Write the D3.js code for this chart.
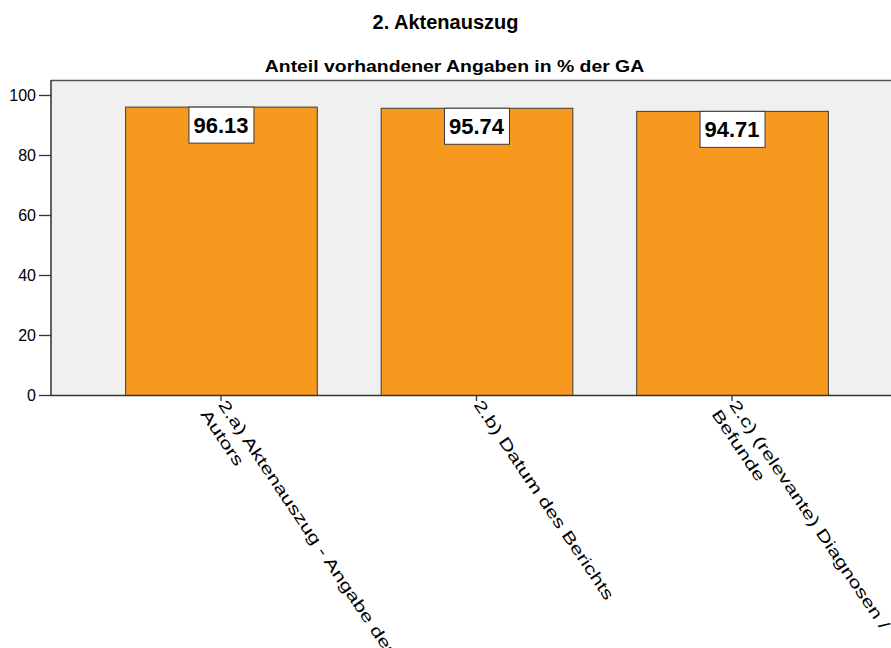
<!DOCTYPE html>
<html>
<head>
<meta charset="utf-8">
<script src="https://cdn.jsdelivr.net/npm/d3@7"></script>
<style>
  html, body { margin: 0; padding: 0; background: #ffffff; }
  svg { display: block; }
  text { font-family: "Liberation Sans", Arial, sans-serif; fill: #000; }
</style>
</head>
<body>
<script>
// Chart content
const chartTitle = "2. Aktenauszug";
const chartSubtitle = "Anteil vorhandener Angaben in % der GA";
const categories = ["2.a", "2.b", "2.c"];
const categoryLines = [
  ["2.a) Aktenauszug - Angabe des", "Autors"],
  ["2.b) Datum des Berichts"],
  ["2.c) (relevante) Diagnosen /", "Befunde"]
];
const values = [96.13, 95.74, 94.71];
const yTicks = [0, 20, 40, 60, 80, 100];

const W = 891, H = 648;
const plot = { left: 51, right: 902, top: 80, bottom: 395 };

const svg = d3.select("body").append("svg")
  .attr("width", W).attr("height", H);

const x = d3.scaleBand()
  .domain(categories)
  .range([plot.left, plot.right])
  .paddingInner(0.25)
  .paddingOuter(0.29);

const y = d3.scaleLinear()
  .domain([0, 105])
  .range([plot.bottom, plot.top]);

// Titles
svg.append("text")
  .attr("x", W / 2).attr("y", 29)
  .attr("text-anchor", "middle")
  .style("font-size", "20px").style("font-weight", "bold")
  .attr("fill", "#111")
  .text(chartTitle);

const sub = svg.append("text")
  .attr("x", W / 2 + 9).attr("y", 72)
  .attr("text-anchor", "middle")
  .style("font-size", "17px").style("font-weight", "bold")
  .attr("fill", "#111")
  .text(chartSubtitle);
sub.attr("textLength", sub.node().getComputedTextLength() * 1.14)
  .attr("lengthAdjust", "spacingAndGlyphs");

// Plot background and frame
svg.append("rect")
  .attr("x", plot.left).attr("y", plot.top)
  .attr("width", W - plot.left).attr("height", plot.bottom - plot.top)
  .attr("fill", "#f0f0f0");

svg.append("line")
  .attr("x1", plot.left).attr("x2", W)
  .attr("y1", plot.top + 0.5).attr("y2", plot.top + 0.5)
  .attr("stroke", "#555").attr("stroke-width", 1.5);

// Bars
svg.append("g").selectAll("rect")
  .data(values)
  .join("rect")
  .attr("x", (d, i) => x(categories[i]) + 0.5)
  .attr("y", d => y(d) + 0.5)
  .attr("width", x.bandwidth())
  .attr("height", d => y(0) - y(d))
  .attr("fill", "#f7991f")
  .attr("stroke", "#3a3a3a")
  .attr("stroke-width", 1);

// Value labels in white boxes at the top of each bar
const boxW = 65, boxH = 36;
const lab = svg.append("g").selectAll("g")
  .data(values)
  .join("g")
  .attr("transform", (d, i) =>
    `translate(${x(categories[i]) + x.bandwidth() / 2},${y(d)})`);

lab.append("rect")
  .attr("x", -boxW / 2 + 0.5).attr("y", 0.5)
  .attr("width", boxW).attr("height", boxH)
  .attr("fill", "#ffffff")
  .attr("stroke", "#3a3a3a").attr("stroke-width", 1);

lab.append("text")
  .attr("x", 0).attr("y", boxH / 2 + 8)
  .attr("text-anchor", "middle")
  .style("font-size", "22px").style("font-weight", "bold")
  .attr("fill", "#111")
  .text(d => d.toFixed(2));

// Y axis
const yAxis = svg.append("g")
  .attr("transform", `translate(${plot.left},0)`)
  .call(d3.axisLeft(y).tickValues(yTicks).tickSize(12).tickPadding(3).tickFormat(d3.format("d")));
yAxis.select(".domain").remove();
yAxis.selectAll(".tick line").attr("stroke", "#333").attr("stroke-width", 1.3);
yAxis.selectAll(".tick text")
  .style("font-family", "'Liberation Sans', Arial, sans-serif")
  .style("font-size", "16px").attr("fill", "#222");
svg.append("line")
  .attr("x1", plot.left).attr("x2", plot.left)
  .attr("y1", plot.top).attr("y2", plot.bottom + 1)
  .attr("stroke", "#333").attr("stroke-width", 1.5);

// X axis baseline and ticks
svg.append("line")
  .attr("x1", plot.left).attr("x2", W)
  .attr("y1", plot.bottom + 0.5).attr("y2", plot.bottom + 0.5)
  .attr("stroke", "#333").attr("stroke-width", 1.5);

const xAxis = svg.append("g")
  .attr("transform", `translate(0,${plot.bottom})`)
  .call(d3.axisBottom(x).tickSize(6).tickFormat(""));
xAxis.select(".domain").remove();
xAxis.selectAll(".tick line").attr("stroke", "#333").attr("stroke-width", 1.3);

// Rotated category labels
const angle = 56;
const xl = svg.append("g").selectAll("g")
  .data(categoryLines)
  .join("g")
  .attr("transform", (d, i) =>
    `translate(${x(categories[i]) + x.bandwidth() / 2},${plot.bottom + 4}) rotate(${angle})`);

xl.each(function(lines) {
  const g = d3.select(this);
  lines.forEach((line, j) => {
    const t = g.append("text")
      .attr("x", 3 - j * 2)
      .attr("y", 6 + j * 20)
      .style("font-size", "16px")
      .attr("fill", "#222")
      .text(line);
    const len = t.node().getComputedTextLength();
    t.attr("textLength", len * 1.38).attr("lengthAdjust", "spacingAndGlyphs");
  });
});
</script>
</body>
</html>
